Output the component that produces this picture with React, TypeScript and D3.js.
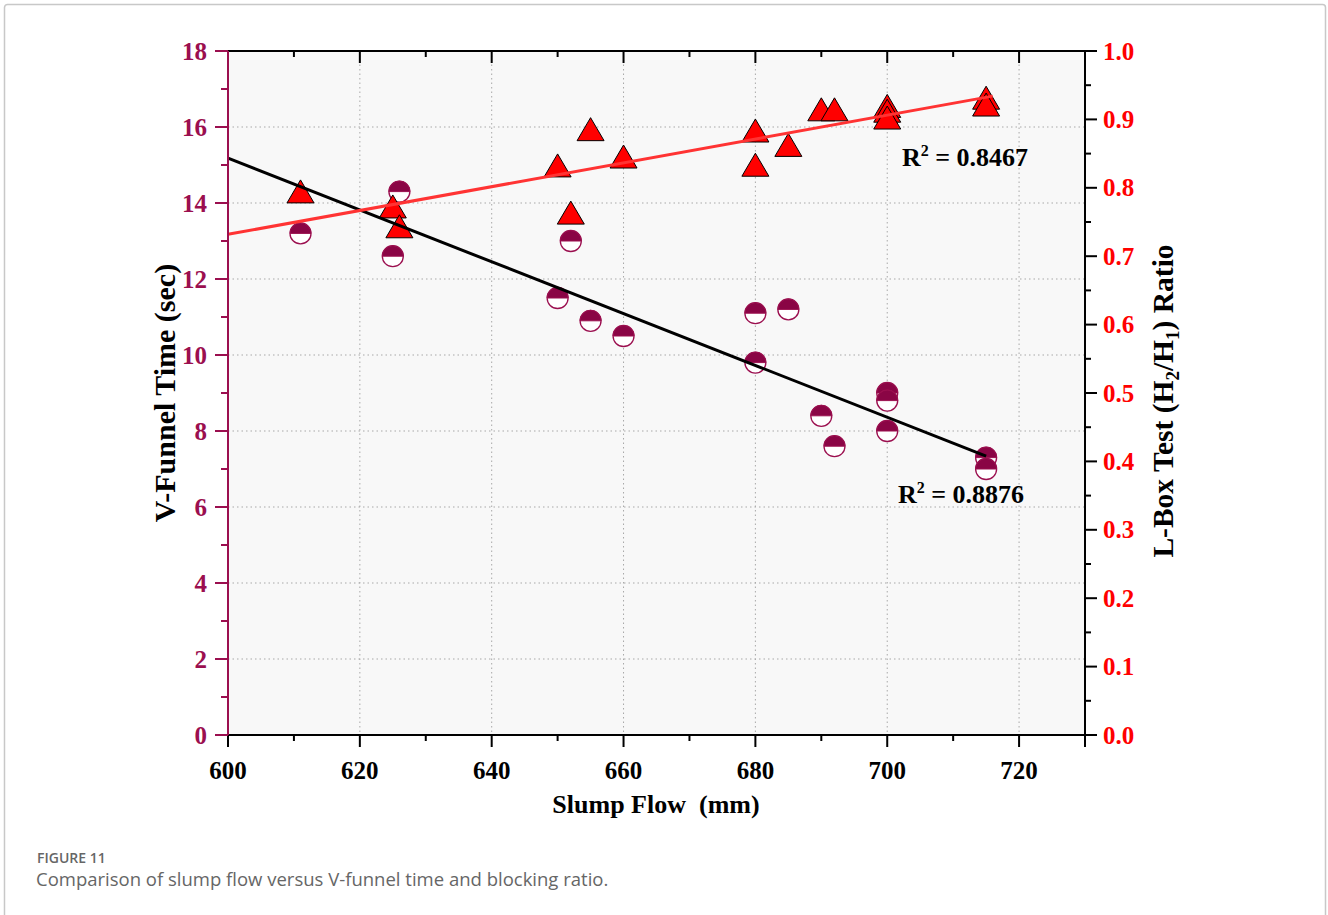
import React from "react";
import * as d3 from "d3";

// Slump flow (mm) for each mix, V-funnel time (s) and L-box blocking ratio
const slumpFlow = [611, 625, 626, 650, 652, 655, 660, 680, 680, 685, 690, 692, 700, 700, 700, 715, 715];
const vFunnelTime = [13.2, 12.6, 14.3, 11.5, 13.0, 10.9, 10.5, 11.1, 9.8, 11.2, 8.4, 7.6, 9.0, 8.8, 8.0, 7.3, 7.0];
const lBoxRatio = [0.794, 0.772, 0.743, 0.832, 0.763, 0.885, 0.845, 0.883, 0.833, 0.862, 0.914, 0.914, 0.919, 0.912, 0.902, 0.931, 0.921];

// Linear fits (endpoints) and their coefficients of determination
const vFunnelFitX = [600, 715];
const vFunnelFitY = [15.18, 7.34];
const lBoxFitX = [600, 716];
const lBoxFitY = [0.732, 0.934];
const r2VFunnel = "0.8876";
const r2LBox = "0.8467";

// Axis ticks
const xMajorTicks = [600, 620, 640, 660, 680, 700, 720];
const xMinorTicks = [610, 630, 650, 670, 690, 710, 730];
const yLeftMajor = [0, 2, 4, 6, 8, 10, 12, 14, 16, 18];
const yLeftMinor = [1, 3, 5, 7, 9, 11, 13, 15, 17];
const yRightMajor = [0, 0.1, 0.2, 0.3, 0.4, 0.5, 0.6, 0.7, 0.8, 0.9, 1.0];
const yRightMinor = [0.05, 0.15, 0.25, 0.35, 0.45, 0.55, 0.65, 0.75, 0.85, 0.95];

const W = 1328;
const H = 915;
const plot = { left: 228, right: 1085, top: 51, bottom: 735 };

const MAGENTA = "#9b0f4f";
const DARK_FILL = "#8a0545";
const RED = "#ff0000";
const SERIF = "'Liberation Serif', 'Times New Roman', serif";

export default function App() {
  const x = d3.scaleLinear().domain([600, 730]).range([plot.left, plot.right]);
  const yL = d3.scaleLinear().domain([0, 18]).range([plot.bottom, plot.top]);
  const yR = d3.scaleLinear().domain([0, 1]).range([plot.bottom, plot.top]);

  const line = d3.line<[number, number]>().x((d) => d[0]).y((d) => d[1]);
  const blackPath = line(vFunnelFitX.map((v, i) => [x(v), yL(vFunnelFitY[i])]));
  const redPath = line(lBoxFitX.map((v, i) => [x(v), yR(lBoxFitY[i])]));

  const r = 10.5;
  const triW = 27;
  const triH = 22;

  return (
    <svg
      width={W}
      height={H}
      style={{ position: "absolute", left: 0, top: 0, background: "#fff" }}
    >
      {/* outer frame */}
      <rect x={4.5} y={4.5} width={1321} height={940} rx={3} fill="none" stroke="#c8c8c8" strokeWidth={1.5} />

      {/* plot background */}
      <rect x={plot.left} y={plot.top} width={plot.right - plot.left} height={plot.bottom - plot.top} fill="#f8f8f8" />

      {/* grid */}
      <g stroke="#a8a8a8" strokeWidth={1} strokeDasharray="1.5,3">
        {xMajorTicks.filter((t) => t > 600).map((t) => (
          <line key={"gx" + t} x1={x(t)} x2={x(t)} y1={plot.top} y2={plot.bottom} />
        ))}
        {yLeftMajor.filter((t) => t > 0 && t < 18).map((t) => (
          <line key={"gy" + t} x1={plot.left} x2={plot.right} y1={yL(t)} y2={yL(t)} />
        ))}
      </g>

      {/* circles: V-funnel time */}
      <g>
        {slumpFlow.map((s, i) => {
          const cx = x(s);
          const cy = yL(vFunnelTime[i]);
          return (
            <g key={"c" + i}>
              <circle cx={cx} cy={cy} r={r} fill="#fff" stroke={MAGENTA} strokeWidth={1.3} />
              <path
                d={`M${cx - r},${cy} A${r},${r} 0 0 1 ${cx + r},${cy} Z`}
                fill={DARK_FILL}
                stroke={MAGENTA}
                strokeWidth={1}
              />
            </g>
          );
        })}
      </g>

      {/* triangles: L-box ratio */}
      <g>
        {slumpFlow.map((s, i) => {
          const cx = x(s);
          const cy = yR(lBoxRatio[i]);
          return (
            <path
              key={"t" + i}
              d={`M${cx},${cy - triH / 2 - 1} L${cx + triW / 2},${cy + triH / 2} L${cx - triW / 2},${cy + triH / 2} Z`}
              fill={RED}
              stroke="#000"
              strokeWidth={1}
              strokeLinejoin="round"
            />
          );
        })}
      </g>

      {/* fitted lines */}
      <path d={blackPath ?? ""} stroke="#000" strokeWidth={3} fill="none" />
      <path d={redPath ?? ""} stroke="#ff3333" strokeWidth={3} fill="none" />

      {/* top axis */}
      <g stroke="#000" strokeWidth={2}>
        <line x1={plot.left} x2={plot.right} y1={plot.top} y2={plot.top} />
        {xMajorTicks.map((t) => (
          <line key={"tt" + t} x1={x(t)} x2={x(t)} y1={plot.top} y2={plot.top + 12} />
        ))}
        {xMinorTicks.map((t) => (
          <line key={"tm" + t} x1={x(t)} x2={x(t)} y1={plot.top} y2={plot.top + 6} />
        ))}
      </g>

      {/* bottom axis */}
      <g stroke="#000" strokeWidth={2}>
        <line x1={plot.left} x2={plot.right + 1} y1={plot.bottom} y2={plot.bottom} />
        {xMajorTicks.map((t) => (
          <line key={"bt" + t} x1={x(t)} x2={x(t)} y1={plot.bottom} y2={plot.bottom + 12} />
        ))}
        {xMinorTicks.map((t) => (
          <line key={"bm" + t} x1={x(t)} x2={x(t)} y1={plot.bottom} y2={plot.bottom + (t === 730 ? 12 : 6)} />
        ))}
      </g>
      <g fontFamily={SERIF} fontWeight="bold" fontSize={25} fill="#000" textAnchor="middle">
        {xMajorTicks.map((t) => (
          <text key={"bl" + t} x={x(t)} y={779}>
            {t}
          </text>
        ))}
      </g>

      {/* right axis */}
      <g stroke="#000" strokeWidth={2}>
        <line x1={plot.right} x2={plot.right} y1={plot.top} y2={plot.bottom} />
        {yRightMajor.map((t) => (
          <line key={"rt" + t} x1={plot.right} x2={plot.right + 12} y1={yR(t)} y2={yR(t)} />
        ))}
        {yRightMinor.map((t) => (
          <line key={"rm" + t} x1={plot.right} x2={plot.right + 6} y1={yR(t)} y2={yR(t)} />
        ))}
      </g>
      <g fontFamily={SERIF} fontWeight="bold" fontSize={25} fill={RED}>
        {yRightMajor.map((t) => (
          <text key={"rl" + t} x={1103} y={yR(t) + 8.5}>
            {t.toFixed(1)}
          </text>
        ))}
      </g>

      {/* left axis */}
      <g stroke={MAGENTA} strokeWidth={2}>
        <line x1={plot.left} x2={plot.left} y1={plot.top} y2={plot.bottom} />
        {yLeftMajor.map((t) => (
          <line key={"lt" + t} x1={plot.left - 13} x2={plot.left} y1={yL(t)} y2={yL(t)} />
        ))}
        {yLeftMinor.map((t) => (
          <line key={"lm" + t} x1={plot.left - 7} x2={plot.left} y1={yL(t)} y2={yL(t)} />
        ))}
      </g>
      <g fontFamily={SERIF} fontWeight="bold" fontSize={25} fill={MAGENTA} textAnchor="end">
        {yLeftMajor.map((t) => (
          <text key={"ll" + t} x={207} y={yL(t) + 8.5}>
            {t}
          </text>
        ))}
      </g>

      {/* axis titles */}
      <text
        fontFamily={SERIF}
        fontWeight="bold"
        fontSize={30}
        textAnchor="middle"
        transform={`translate(175,${(plot.top + plot.bottom) / 2}) rotate(-90)`}
      >
        V-Funnel Time (sec)
      </text>
      <text
        fontFamily={SERIF}
        fontWeight="bold"
        fontSize={29.5}
        textAnchor="middle"
        transform={`translate(1173,${(plot.top + plot.bottom) / 2 + 8}) rotate(-90)`}
      >
        L-Box Test (H
        <tspan fontSize={19} dy={6}>2</tspan>
        <tspan dy={-6}>/H</tspan>
        <tspan fontSize={19} dy={6}>1</tspan>
        <tspan dy={-6}>) Ratio</tspan>
      </text>
      <text
        fontFamily={SERIF}
        fontWeight="bold"
        fontSize={26}
        textAnchor="middle"
        x={656}
        y={813}
        style={{ whiteSpace: "pre" }}
      >
        {"Slump Flow  (mm)"}
      </text>

      {/* R² annotations */}
      <text fontFamily={SERIF} fontWeight="bold" fontSize={26} x={902} y={166}>
        R<tspan fontSize={16} dy={-10}>2</tspan>
        <tspan dy={10}>{" = " + r2LBox}</tspan>
      </text>
      <text fontFamily={SERIF} fontWeight="bold" fontSize={26} x={898} y={503}>
        R<tspan fontSize={16} dy={-10}>2</tspan>
        <tspan dy={10}>{" = " + r2VFunnel}</tspan>
      </text>

      {/* caption */}
      <text fontFamily="'Open Sans', sans-serif" fontWeight={600} fontSize={14} fill="#666" x={37} y={863}>
        FIGURE 11
      </text>
      <text fontFamily="'Open Sans', sans-serif" fontSize={18.5} fill="#666" x={36} y={886}>
        Comparison of slump flow versus V-funnel time and blocking ratio.
      </text>
    </svg>
  );
}
